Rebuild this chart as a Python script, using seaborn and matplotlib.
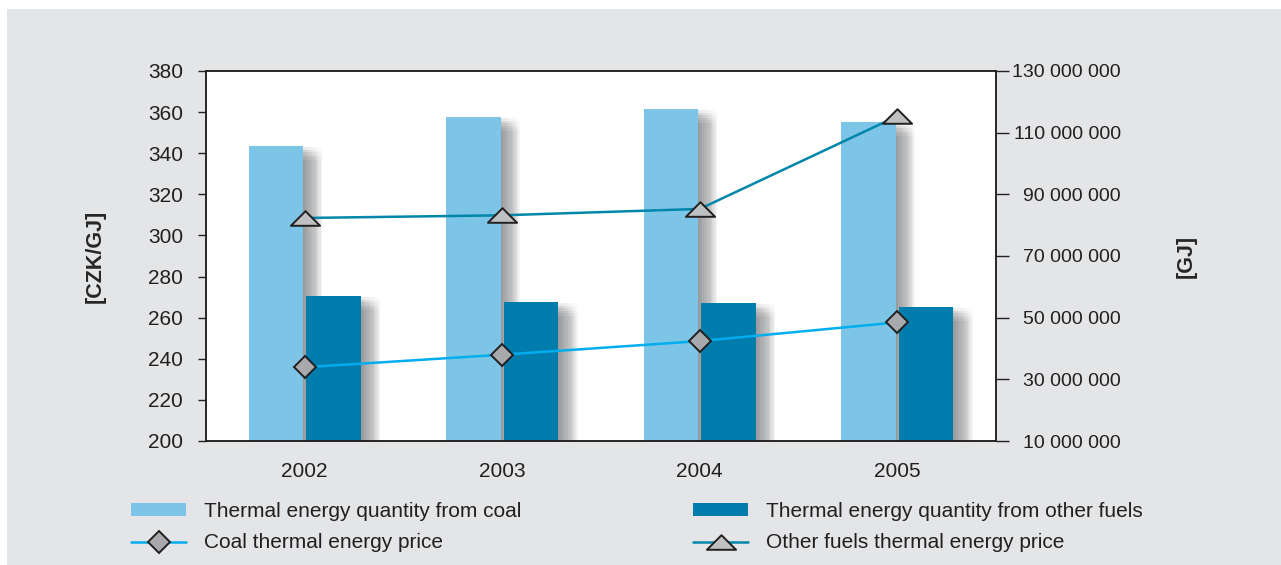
import matplotlib
matplotlib.use("Agg")
import matplotlib.pyplot as plt
import matplotlib.patheffects as pe
from matplotlib.patches import Patch, Rectangle
from matplotlib.lines import Line2D
from matplotlib.path import Path
from matplotlib.ticker import FixedLocator, FuncFormatter
import numpy as np
import pandas as pd
import seaborn as sns

# ---- data -------------------------------------------------------------
years = ["2002", "2003", "2004", "2005"]
coal_quantity_gj = [105.7e6, 115.1e6, 117.7e6, 113.5e6]
other_quantity_gj = [57.0e6, 55.1e6, 54.8e6, 53.5e6]
coal_price_czk = [235.9, 242.0, 248.6, 257.7]
other_price_czk = [308.5, 309.8, 312.9, 358.0]

price_ticks = [200, 220, 240, 260, 280, 300, 320, 340, 360, 380]
quantity_ticks = [10e6, 30e6, 50e6, 70e6, 90e6, 110e6, 130e6]

series_names = [
    "Thermal energy quantity from coal",
    "Thermal energy quantity from other fuels",
    "Coal thermal energy price",
    "Other fuels thermal energy price",
]

# ---- styling ----------------------------------------------------------
LIGHT_BAR = "#7dc5e6"
DARK_BAR = "#007dad"
COAL_LINE = "#00adee"
OTHER_LINE = "#0086aa"
DIAMOND_FACE = "#a7a9ac"
TRIANGLE_FACE = "#bec0c2"
EDGE = "#231f20"
PANEL = "#e4e5e7"

sns.set_theme(style="white")
plt.rcParams["font.family"] = ["Liberation Sans", "DejaVu Sans"]
plt.rcParams["text.color"] = EDGE
plt.rcParams["xtick.color"] = EDGE
plt.rcParams["ytick.color"] = EDGE

W, H = 1281, 565
fig = plt.figure(figsize=(W / 100, H / 100), dpi=100, facecolor="white")
fig.add_artist(Rectangle((7 / W, 0), 1, 1 - 9 / H, transform=fig.transFigure,
                         facecolor=PANEL, edgecolor="none", zorder=-10))

ax = fig.add_axes([206 / W, 1 - 441 / H, 790 / W, 370 / H])
ax.set_facecolor("white")
ax2 = ax.twinx()

# soft drop shadow behind the bars: many faint offset copies
shadow = []
for dx in np.linspace(0.8, 14.0, 12):
    for dy in np.linspace(-1.0, -10.0, 6):
        shadow.append(pe.SimplePatchShadow(offset=(dx, dy), shadow_rgbFace="#6d6e71",
                                           alpha=0.012))
shadow.append(pe.Normal())

bars = pd.DataFrame({
    "year": years * 2,
    "quantity": coal_quantity_gj + other_quantity_gj,
    "series": [series_names[0]] * 4 + [series_names[1]] * 4,
})
sns.barplot(data=bars, x="year", y="quantity", hue="series",
            palette=[LIGHT_BAR, DARK_BAR], saturation=1, width=0.585, gap=0.06,
            linewidth=0, legend=False, ax=ax, path_effects=shadow)
ax.set_ylim(quantity_ticks[0], quantity_ticks[-1])
ax.set_xlim(-0.5, 3.5)
ax.set_xlabel("")

# quantity axis on the right
ax.yaxis.tick_right()
ax.yaxis.set_label_position("right")
ax.yaxis.set_major_locator(FixedLocator(quantity_ticks))
ax.yaxis.set_major_formatter(FuncFormatter(lambda v, p: f"{v:,.0f}".replace(",", " ")))
ax.tick_params(axis="y", direction="out", length=9.4, width=1.0, pad=80.6,
               labelsize=14, right=True, left=False, labelright=True,
               labelleft=False, color=EDGE)
for lbl in ax.get_yticklabels():
    lbl.set_horizontalalignment("right")
ax.set_ylabel("[GJ]", fontsize=15.5, fontweight="bold")
ax.yaxis.label.set(ha="center", va="center")
ax.yaxis.set_label_coords((1186 - 206) / 790, 0.5)

# x axis: category labels, end ticks only
ax.tick_params(axis="x", which="major", length=0, pad=15.0, labelsize=15)
ax.set_xticks([-0.5, 3.5], minor=True)
ax.tick_params(axis="x", which="minor", direction="out", length=5.5, width=1.0,
               color=EDGE)

# price axis on the left
x_pos = np.arange(len(years))
sns.lineplot(x=x_pos, y=coal_price_czk, ax=ax2, color=COAL_LINE, linewidth=1.8,
             marker="D", markersize=11, markerfacecolor=DIAMOND_FACE,
             markeredgecolor=EDGE, markeredgewidth=1.4)
flat_triangle = Path([(0, 0.5), (-1, -0.5), (1, -0.5), (0, 0.5)],
                     [Path.MOVETO, Path.LINETO, Path.LINETO, Path.CLOSEPOLY])
sns.lineplot(x=x_pos, y=other_price_czk, ax=ax2, color=OTHER_LINE, linewidth=1.8,
             marker=flat_triangle, markersize=21, markerfacecolor=TRIANGLE_FACE,
             markeredgecolor=EDGE, markeredgewidth=1.4)
ax2.set_ylim(price_ticks[0], price_ticks[-1])
ax2.set_xlim(-0.5, 3.5)
ax2.yaxis.tick_left()
ax2.yaxis.set_label_position("left")
ax2.yaxis.set_major_locator(FixedLocator(price_ticks))
ax2.tick_params(axis="y", direction="out", length=5.8, width=1.0, pad=10.6,
                labelsize=15, left=True, right=False, labelleft=True,
                labelright=False, color=EDGE)
ax2.set_ylabel("[CZK/GJ]", fontsize=15.5, fontweight="bold")
ax2.yaxis.label.set(ha="center", va="center")
ax2.yaxis.set_label_coords((95 - 206) / 790, 0.5)

for a in (ax, ax2):
    for s in a.spines.values():
        s.set_visible(True)
        s.set_color(EDGE)
        s.set_linewidth(1.1)

# legend in two columns under the plot
coal_bar_h = Patch(facecolor=LIGHT_BAR, edgecolor="none")
other_bar_h = Patch(facecolor=DARK_BAR, edgecolor="none")
coal_line_h = Line2D([], [], color=COAL_LINE, linewidth=1.8, marker="D", markersize=11,
                     markerfacecolor=DIAMOND_FACE, markeredgecolor=EDGE, markeredgewidth=1.4)
other_line_h = Line2D([], [], color=OTHER_LINE, linewidth=1.8, marker=flat_triangle,
                      markersize=21, markerfacecolor=TRIANGLE_FACE, markeredgecolor=EDGE,
                      markeredgewidth=1.4)

legend_kw = dict(loc="upper left", frameon=False, fontsize=15, borderpad=0,
                 borderaxespad=0, handlelength=2.64, handleheight=0.54,
                 handletextpad=0.87, labelspacing=0.6)
leg1 = fig.legend([coal_bar_h, coal_line_h], series_names[0::2],
                  bbox_to_anchor=(131 / W, 1 - 502 / H), **legend_kw)
leg2 = fig.legend([other_bar_h, other_line_h], series_names[1::2],
                  bbox_to_anchor=(693 / W, 1 - 502 / H), **legend_kw)

fig.savefig("out.png", dpi=100, facecolor=fig.get_facecolor())
